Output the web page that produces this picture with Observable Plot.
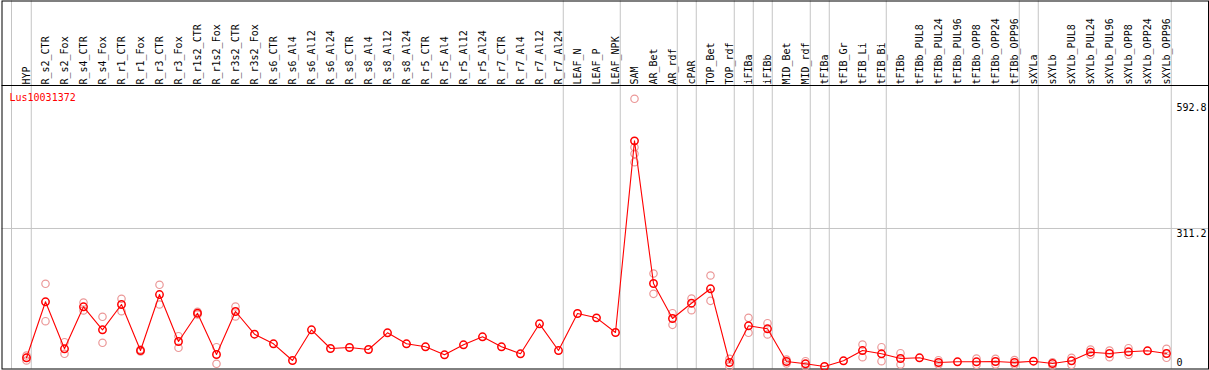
<!DOCTYPE html>
<html>
<head>
<meta charset="utf-8">
<script src="https://cdn.jsdelivr.net/npm/d3@7"></script>
<script src="https://cdn.jsdelivr.net/npm/@observablehq/plot@0.6"></script>
<style>
  html, body { margin: 0; padding: 0; background: #fff; }
  #chart svg { display: block; }
</style>
</head>
<body>
<div id="chart"></div>
<script>
// ---------- data ----------
const probeId = "Lus10031372";

const categories = [
  "HYP", "R_s2_CTR", "R_s2_Fox", "R_s4_CTR", "R_s4_Fox", "R_r1_CTR", "R_r1_Fox", "R_r3_CTR", "R_r3_Fox",
  "R_r1s2_CTR", "R_r1s2_Fox", "R_r3s2_CTR", "R_r3s2_Fox", "R_s6_CTR", "R_s6_Al4", "R_s6_Al12", "R_s6_Al24",
  "R_s8_CTR", "R_s8_Al4", "R_s8_Al12", "R_s8_Al24", "R_r5_CTR", "R_r5_Al4", "R_r5_Al12", "R_r5_Al24",
  "R_r7_CTR", "R_r7_Al4", "R_r7_Al12", "R_r7_Al24", "LEAF_N", "LEAF_P", "LEAF_NPK", "SAM", "AR_Bet", "AR_rdf",
  "cPAR", "TOP_Bet", "TOP_rdf", "iFIBa", "iFIBb", "MID_Bet", "MID_rdf", "tFIBa", "tFIB_Gr", "tFIB_Li", "tFIB_Bi",
  "tFIBb", "tFIBb_PUL8", "tFIBb_PUL24", "tFIBb_PUL96", "tFIBb_OPP8", "tFIBb_OPP24", "tFIBb_OPP96",
  "sXYLa", "sXYLb", "sXYLb_PUL8", "sXYLb_PUL24", "sXYLb_PUL96", "sXYLb_OPP8", "sXYLb_OPP24", "sXYLb_OPP96"
];

const meanValues = [
  30.4, 152.0, 49.9, 141.1, 91.2, 146.1, 46.2, 167.8, 65.8, 127.2,
  37.6, 130.9, 81.6, 60.8, 24.5, 91.2, 50.6, 52.8, 48.4, 84.7,
  60.8, 54.3, 36.9, 58.6, 76.0, 54.3, 39.1, 104.2, 46.2, 126.6,
  117.2, 85.3, 501.5, 191.7, 115.7, 148.9, 180.2, 20.2, 99.9, 93.4,
  22.4, 17.4, 11.5, 23.9, 46.2, 39.1, 28.9, 30.4, 20.2, 21.7,
  21.7, 22.4, 20.2, 23.0, 18.0, 23.9, 42.6, 39.7, 43.4, 45.6,
  39.7
];

const replicateValues = [
  [35.4, 24.5], [191.1, 109.9], [64.3, 39.1], [150.5, 133.1], [119.4, 63.0],
  [158.5, 131.6], [48.4, 44.1], [188.9, 146.1], [77.3, 52.1], [130.3, 124.4],
  [53.4, 17.4], [141.8, 120.1],
  [], [], [], [], [], [], [], [], [], [], [], [], [], [], [], [], [], [], [], [],
  [592.8, 487.6, 473.3, 455.1], [213.4, 169.3], [127.2, 102.0], [159.1, 133.7], [209.1, 154.1],
  [28.2, 11.5], [117.2, 84.7], [105.5, 81.0], [26.7, 18.0], [23.0, 12.2],
  [], [], [59.3, 31.7], [53.4, 23.0], [40.4, 15.8], [], [25.2, 15.8], [],
  [28.9, 15.2], [28.2, 15.8], [25.6, 15.8], [], [20.8, 13.7], [30.4, 15.2],
  [48.4, 36.9], [46.2, 31.7], [51.2, 36.9], [], [49.9, 30.4]
];

const yTickValues = [592.8, 311.2, 0];
const gridValue = 311.2;

// categories after which a group separator is drawn
const groupEnds = ["HYP", "R_r7_Al24", "LEAF_NPK", "AR_rdf", "cPAR", "TOP_rdf", "iFIBa", "iFIBb",
  "MID_rdf", "tFIBa", "tFIB_Bi", "tFIBb_OPP96", "sXYLa", "sXYLb_OPP96"];

// ---------- tables ----------
const means = categories.map((c, i) => ({cat: c, value: meanValues[i]}));
const reps = categories.flatMap((c, i) => replicateValues[i].map(v => ({cat: c, value: v})));

const step = 19;
const grid = "#c4c4c4";

const chart = Plot.plot({
  width: 1209,
  height: 370,
  marginTop: 0.5,
  marginLeft: 1.5,
  marginRight: 1,
  marginBottom: 1.5,
  style: {fontFamily: "'DejaVu Sans Mono', monospace", fontSize: "10px", background: "#fff", color: "#000", overflow: "visible"},
  x: {type: "point", domain: categories, range: [26, 1166], padding: 0, axis: null},
  y: {domain: [0, 592.8], range: [371.3, 98.3], axis: null},
  marks: [
    // vertical group separators (full height)
    Plot.ruleX([categories[0]], {dx: -15, stroke: grid, strokeWidth: 1}),
    Plot.ruleX(groupEnds, {dx: step / 4, stroke: grid, strokeWidth: 1}),
    // horizontal grid line
    Plot.ruleY([gridValue], {stroke: grid, strokeWidth: 1}),
    // header separator
    Plot.frame({anchor: "top", insetTop: 84.5, stroke: "#000", strokeWidth: 1}),
    // outer border
    Plot.frame({stroke: "#000", strokeWidth: 1}),
    // rotated category labels
    Plot.text(categories, {x: d => d, frameAnchor: "top", dy: 83.5, rotate: -90, textAnchor: "start", lineAnchor: "middle", fill: "#000"}),
    // probe id
    Plot.text([probeId], {frameAnchor: "top-left", dx: 7.5, dy: 96.5, textAnchor: "start", lineAnchor: "middle", fill: "#ff0000"}),
    // y labels
    Plot.text([yTickValues[0]], {y: d => d, frameAnchor: "right", dx: -32, dy: 5, lineAnchor: "top", textAnchor: "start", text: d => String(d)}),
    Plot.text([yTickValues[1]], {y: d => d, frameAnchor: "right", dx: -32, dy: 1, lineAnchor: "top", textAnchor: "start", text: d => String(d)}),
    Plot.text([yTickValues[2]], {y: d => d, frameAnchor: "right", dx: -32, dy: -5.5, lineAnchor: "bottom", textAnchor: "start", text: d => String(d)}),
    // replicate points
    Plot.dot(reps, {x: "cat", y: "value", r: 3.7, stroke: "#eb9898", strokeWidth: 1.2, fill: "none"}),
    // mean line + points
    Plot.line(means, {x: "cat", y: "value", stroke: "#ff0000", strokeWidth: 1.1}),
    Plot.dot(means, {x: "cat", y: "value", r: 3.7, stroke: "#ff0000", strokeWidth: 1.5, fill: "none"})
  ]
});

document.getElementById("chart").append(chart);
</script>
</body>
</html>
